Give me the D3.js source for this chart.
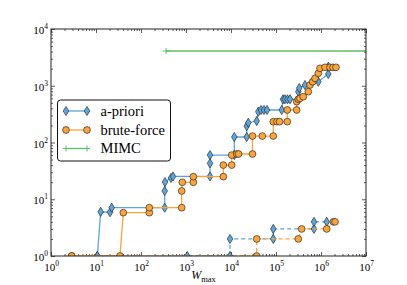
<!DOCTYPE html>
<html><head><meta charset="utf-8">
<script src="https://cdn.jsdelivr.net/npm/d3@7"></script>
<style>html,body{margin:0;padding:0;background:#fff;}svg{display:block;} svg text{font-family:"Liberation Serif","DejaVu Serif",serif;}</style>
</head><body>
<svg id="chart" width="407" height="285"></svg>
<script>
// ---- data ----
const seriesNames = ["a-priori", "brute-force", "MIMC"];
const aprioriX = [10.7, 12.7, 20.5, 22.3, 336, 336, 341, 464, 514, 3415, 3415, 3415, 11840, 11840, 22340, 22340, 24230, 37240, 40450, 46400, 54100, 63100, 134000, 143000, 158000, 180000, 205000, 313000, 313000, 330000, 441000, 871000, 1450000, 1450000];
const aprioriY = [1, 6.0, 5.9, 7.1, 7.1, 14.0, 20.1, 23.7, 25.2, 25.2, 43, 60, 60, 125, 125, 195, 223, 239, 349, 374, 374, 374, 374, 577, 577, 577, 577, 577, 785, 912, 1030, 1178, 1611, 2167];
const bruteX = [2.88, 34.1, 40.4, 153, 153, 802, 802, 827, 1453, 1453, 6750, 6750, 10370, 10370, 13400, 14700, 30050, 30050, 49640, 87100, 87100, 105000, 120000, 178000, 178000, 288000, 288000, 313000, 341000, 404000, 522000, 570000, 653000, 736000, 871000, 950000, 1230000, 1580000, 1850000, 2150000];
const bruteY = [1, 1, 5.8, 5.8, 7.1, 7.1, 14.0, 19.9, 19.9, 25, 25, 40, 40, 60, 62.7, 62.7, 62.7, 130, 130, 130, 233, 233, 233, 233, 374, 374, 524, 577, 601, 641, 785, 1030, 1178, 1353, 1656, 2030, 2113, 2113, 2113, 2113];
const mimcX = [360, 1e7];
const mimcY = [4096, 4096];
const aprioriDashX = [10.7, 1069, 9500, 9500, 87100, 87100, 698000, 698000, 1340000];
const aprioriDashY = [1, 1, 1, 2, 2, 3, 3, 4, 4];
const bruteDashX = [2.88, 37240, 37240, 313000, 372000, 1340000, 1880000, 2050000];
const bruteDashY = [1, 1, 2, 2, 3, 3, 4, 4];
const xTicks = [1, 10, 100, 1e3, 1e4, 1e5, 1e6, 1e7];
const yTicks = [1, 10, 100, 1e3, 1e4];

const colBlue = "#5DA5DA", colOrange = "#FAA43A", colGreen = "#60BD68";

const svg = d3.select("#chart");
const L = 51, R = 366, T = 29, B = 256;
const x = d3.scaleLog().domain([1, 1e7]).range([L, R]);
const y = d3.scaleLog().domain([1, 1e4]).range([B, T]);

const font = '"Liberation Serif", "DejaVu Serif", serif';

svg.append("defs").append("clipPath").attr("id", "clip")
  .append("rect").attr("x", L).attr("y", T).attr("width", R - L).attr("height", B - T);

function minors(lo, hi) {
  const out = [];
  for (let e = lo; e < hi; e++) for (let k = 2; k <= 9; k++) out.push(k * Math.pow(10, e));
  return out;
}
const xMinor = minors(0, 7), yMinor = minors(0, 4);

function supLabel(sel) {
  sel.attr("font-family", null);
  sel.selectAll(".tick text").each(function(d) {
    const t = d3.select(this);
    t.text(null).style("font-family", font).attr("fill", "#000");
    t.append("tspan").attr("font-size", 11).text("10");
    t.append("tspan").attr("font-size", 7.5).attr("dy", -5).text(Math.round(Math.log10(d)));
  });
}

const axCol = "#333";
const gB = svg.append("g").attr("transform", `translate(0,${B})`)
  .call(d3.axisBottom(x).tickValues(xTicks).tickSize(-4).tickPadding(6));
supLabel(gB);
gB.selectAll(".tick text").attr("dy", "0.9em");
svg.append("g").attr("transform", `translate(0,${B})`)
  .call(d3.axisBottom(x).tickValues(xMinor).tickSize(-2).tickFormat(""));
svg.append("g").attr("transform", `translate(0,${T})`)
  .call(d3.axisTop(x).tickValues(xTicks).tickSize(-4).tickFormat(""));
svg.append("g").attr("transform", `translate(0,${T})`)
  .call(d3.axisTop(x).tickValues(xMinor).tickSize(-2).tickFormat(""));
const gL = svg.append("g").attr("transform", `translate(${L},0)`)
  .call(d3.axisLeft(y).tickValues(yTicks).tickSize(-4).tickPadding(3));
supLabel(gL);
gL.selectAll(".tick text").attr("dy", "0.45em");
svg.append("g").attr("transform", `translate(${L},0)`)
  .call(d3.axisLeft(y).tickValues(yMinor).tickSize(-2).tickFormat(""));
svg.append("g").attr("transform", `translate(${R},0)`)
  .call(d3.axisRight(y).tickValues(yTicks).tickSize(-4).tickFormat(""));
svg.append("g").attr("transform", `translate(${R},0)`)
  .call(d3.axisRight(y).tickValues(yMinor).tickSize(-2).tickFormat(""));
svg.selectAll(".domain").remove();
svg.selectAll(".tick line").attr("stroke", axCol).attr("stroke-width", 0.8);

const plot = svg.append("g").attr("clip-path", "url(#clip)");
const line = d3.line().x(d => x(d[0])).y(d => y(d[1]));
const zip = (a, b) => a.map((v, i) => [v, b[i]]);

const diamond = "M0,-4.6L2.8,0L0,4.6L-2.8,0Z";

function drawSeries(xs, ys, color, dash, marker) {
  const pts = zip(xs, ys);
  plot.append("path").datum(pts).attr("d", line).attr("fill", "none")
    .attr("stroke", color).attr("stroke-width", 1.3)
    .attr("stroke-dasharray", dash ? "4,3" : null);
  const g = plot.append("g");
  if (marker === "d") {
    g.selectAll("path").data(pts).join("path").attr("d", diamond)
      .attr("transform", d => `translate(${x(d[0])},${y(d[1])})`)
      .attr("fill", color).attr("stroke", "#1a1a1a").attr("stroke-width", 0.6);
  } else if (marker === "o") {
    g.selectAll("circle").data(pts).join("circle")
      .attr("cx", d => x(d[0])).attr("cy", d => y(d[1])).attr("r", 3.4)
      .attr("fill", color).attr("stroke", "#1a1a1a").attr("stroke-width", 0.6);
  } else if (marker === "+") {
    g.selectAll("path").data(pts).join("path").attr("d", "M-3,0H3M0,-3V3")
      .attr("transform", d => `translate(${x(d[0])},${y(d[1])})`)
      .attr("stroke", color).attr("stroke-width", 1);
  }
}

drawSeries(aprioriDashX, aprioriDashY, colBlue, true, "d");
drawSeries(bruteDashX, bruteDashY, colOrange, true, "o");
drawSeries(aprioriX, aprioriY, colBlue, false, "d");
drawSeries(bruteX, bruteY, colOrange, false, "o");
drawSeries(mimcX, mimcY, colGreen, false, "+");

svg.append("rect").attr("x", L).attr("y", T).attr("width", R - L).attr("height", B - T)
  .attr("fill", "none").attr("stroke", "#222").attr("stroke-width", 1);

const xl = svg.append("text").attr("x", (L + R) / 2 - 5).attr("y", 279)
  .attr("text-anchor", "middle").style("font-family", font).attr("font-size", 12);
xl.append("tspan").attr("font-style", "italic").text("W");
xl.append("tspan").attr("font-size", 8.5).attr("dy", 2.5).text("max");

const lg = svg.append("g");
lg.append("rect").attr("x", 57.5).attr("y", 100).attr("width", 113).attr("height", 61)
  .attr("rx", 3).attr("fill", "#fff").attr("stroke", "#111").attr("stroke-width", 1);
const legendY = [111, 130, 148.5];
const legendMarkers = ["d", "o", "+"];
const legendCols = [colBlue, colOrange, colGreen];
seriesNames.forEach((name, i) => {
  const yy = legendY[i];
  lg.append("line").attr("x1", 66).attr("x2", 87).attr("y1", yy).attr("y2", yy)
    .attr("stroke", legendCols[i]).attr("stroke-width", 1.3);
  [66, 87].forEach(xx => {
    if (legendMarkers[i] === "d") {
      lg.append("path").attr("d", diamond).attr("transform", `translate(${xx},${yy})`)
        .attr("fill", colBlue).attr("stroke", "#1a1a1a").attr("stroke-width", 0.6);
    } else if (legendMarkers[i] === "o") {
      lg.append("circle").attr("cx", xx).attr("cy", yy).attr("r", 3.4)
        .attr("fill", colOrange).attr("stroke", "#1a1a1a").attr("stroke-width", 0.6);
    } else {
      lg.append("path").attr("d", "M-3,0H3M0,-3V3").attr("transform", `translate(${xx},${yy})`)
        .attr("stroke", colGreen).attr("stroke-width", 1);
    }
  });
  lg.append("text").attr("x", 100.5).attr("y", yy + 4.5).style("font-family", font)
    .attr("font-size", 14.5).text(name);
});
</script>
</body></html>
